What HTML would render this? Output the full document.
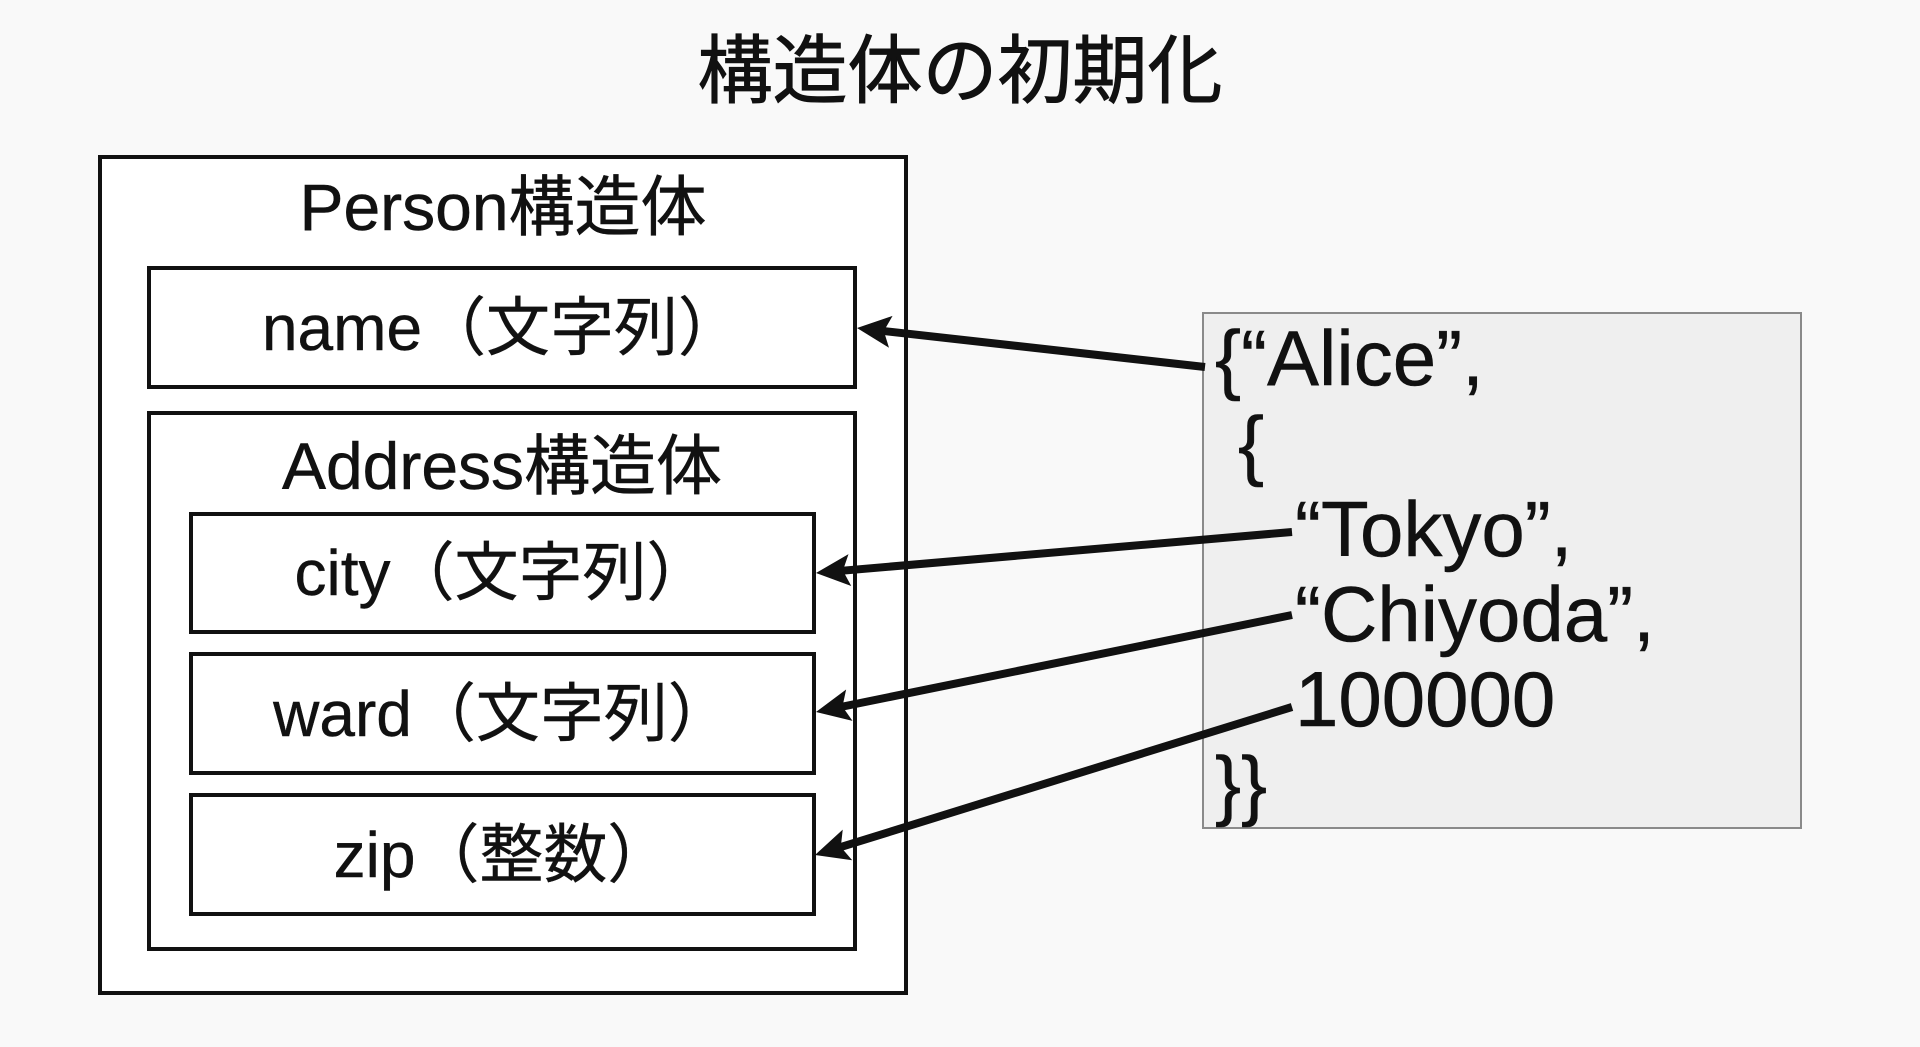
<!DOCTYPE html>
<html lang="ja">
<head>
<meta charset="utf-8">
<style>
  html, body { margin:0; padding:0; }
  body {
    width:1920px; height:1047px; position:relative; overflow:hidden;
    background:#f9f9f9;
    font-family:"Liberation Sans","Noto Sans CJK JP",sans-serif;
    color:#111;
  }
  .box { position:absolute; box-sizing:border-box; border:4px solid #111; background:#fff; }
  .fld { display:flex; align-items:center; justify-content:center; }
  .lbl { font-size:64px; line-height:64px; white-space:nowrap; -webkit-text-stroke:0.4px #111; }
  .t { position:absolute; white-space:nowrap; line-height:1; -webkit-text-stroke:0.5px #111; }
  .code { position:absolute; font-family:"Liberation Sans",sans-serif; font-size:78px; line-height:78px; white-space:pre; color:#111; -webkit-text-stroke:0.5px #111; }
</style>
</head>
<body>

<div class="t" style="left:0; width:1920px; top:34px; text-align:center; font-size:75px; -webkit-text-stroke:0.9px #111;">構造体の初期化</div>

<div class="box" style="left:98px; top:155px; width:810px; height:840px;"></div>
<div class="t" style="left:98px; width:810px; top:174px; text-align:center; font-size:66px;">Person構造体</div>

<div class="box fld" style="left:147px; top:266px; width:710px; height:123px;"><span class="lbl">name（文字列）</span></div>

<div class="box" style="left:147px; top:411px; width:710px; height:540px;"></div>
<div class="t" style="left:147px; width:710px; top:433px; text-align:center; font-size:66px;">Address構造体</div>

<div class="box fld" style="left:189px; top:512px; width:627px; height:122px;"><span class="lbl">city（文字列）</span></div>
<div class="box fld" style="left:189px; top:652px; width:627px; height:123px;"><span class="lbl">ward（文字列）</span></div>
<div class="box fld" style="left:189px; top:793px; width:627px; height:123px;"><span class="lbl">zip（整数）</span></div>

<div style="position:absolute; left:1202px; top:312px; width:600px; height:517px; box-sizing:border-box; border:2px solid #8a8a8a; background:#efefef;"></div>

<div class="code" style="left:1215px; top:319px;">{“Alice”,</div>
<div class="code" style="left:1238px; top:405px;">{</div>
<div class="code" style="left:1295px; top:490px;">“Tokyo”,</div>
<div class="code" style="left:1295px; top:575px;">“Chiyoda”,</div>
<div class="code" style="left:1295px; top:660px;">100000</div>
<div class="code" style="left:1215px; top:745px;">}}</div>

<svg width="1920" height="1047" style="position:absolute; left:0; top:0;" xmlns="http://www.w3.org/2000/svg">
  <g stroke="#111" stroke-width="8" fill="none">
    <line x1="1205" y1="367" x2="871.9" y2="329.7"/>
    <line x1="1292" y1="532" x2="830.9" y2="571.7"/>
    <line x1="1292" y1="615" x2="830.7" y2="709"/>
    <line x1="1292" y1="707" x2="829.3" y2="850.6"/>
  </g>
  <g fill="#111">
    <path transform="translate(857,328) rotate(186.41)" d="M0,0 L-34,-16 L-27,0 L-34,16 Z"/>
    <path transform="translate(816,573) rotate(175.08)" d="M0,0 L-34,-16 L-27,0 L-34,16 Z"/>
    <path transform="translate(816,712) rotate(168.48)" d="M0,0 L-34,-16 L-27,0 L-34,16 Z"/>
    <path transform="translate(815,855) rotate(162.76)" d="M0,0 L-34,-16 L-27,0 L-34,16 Z"/>
  </g>
</svg>

</body>
</html>
